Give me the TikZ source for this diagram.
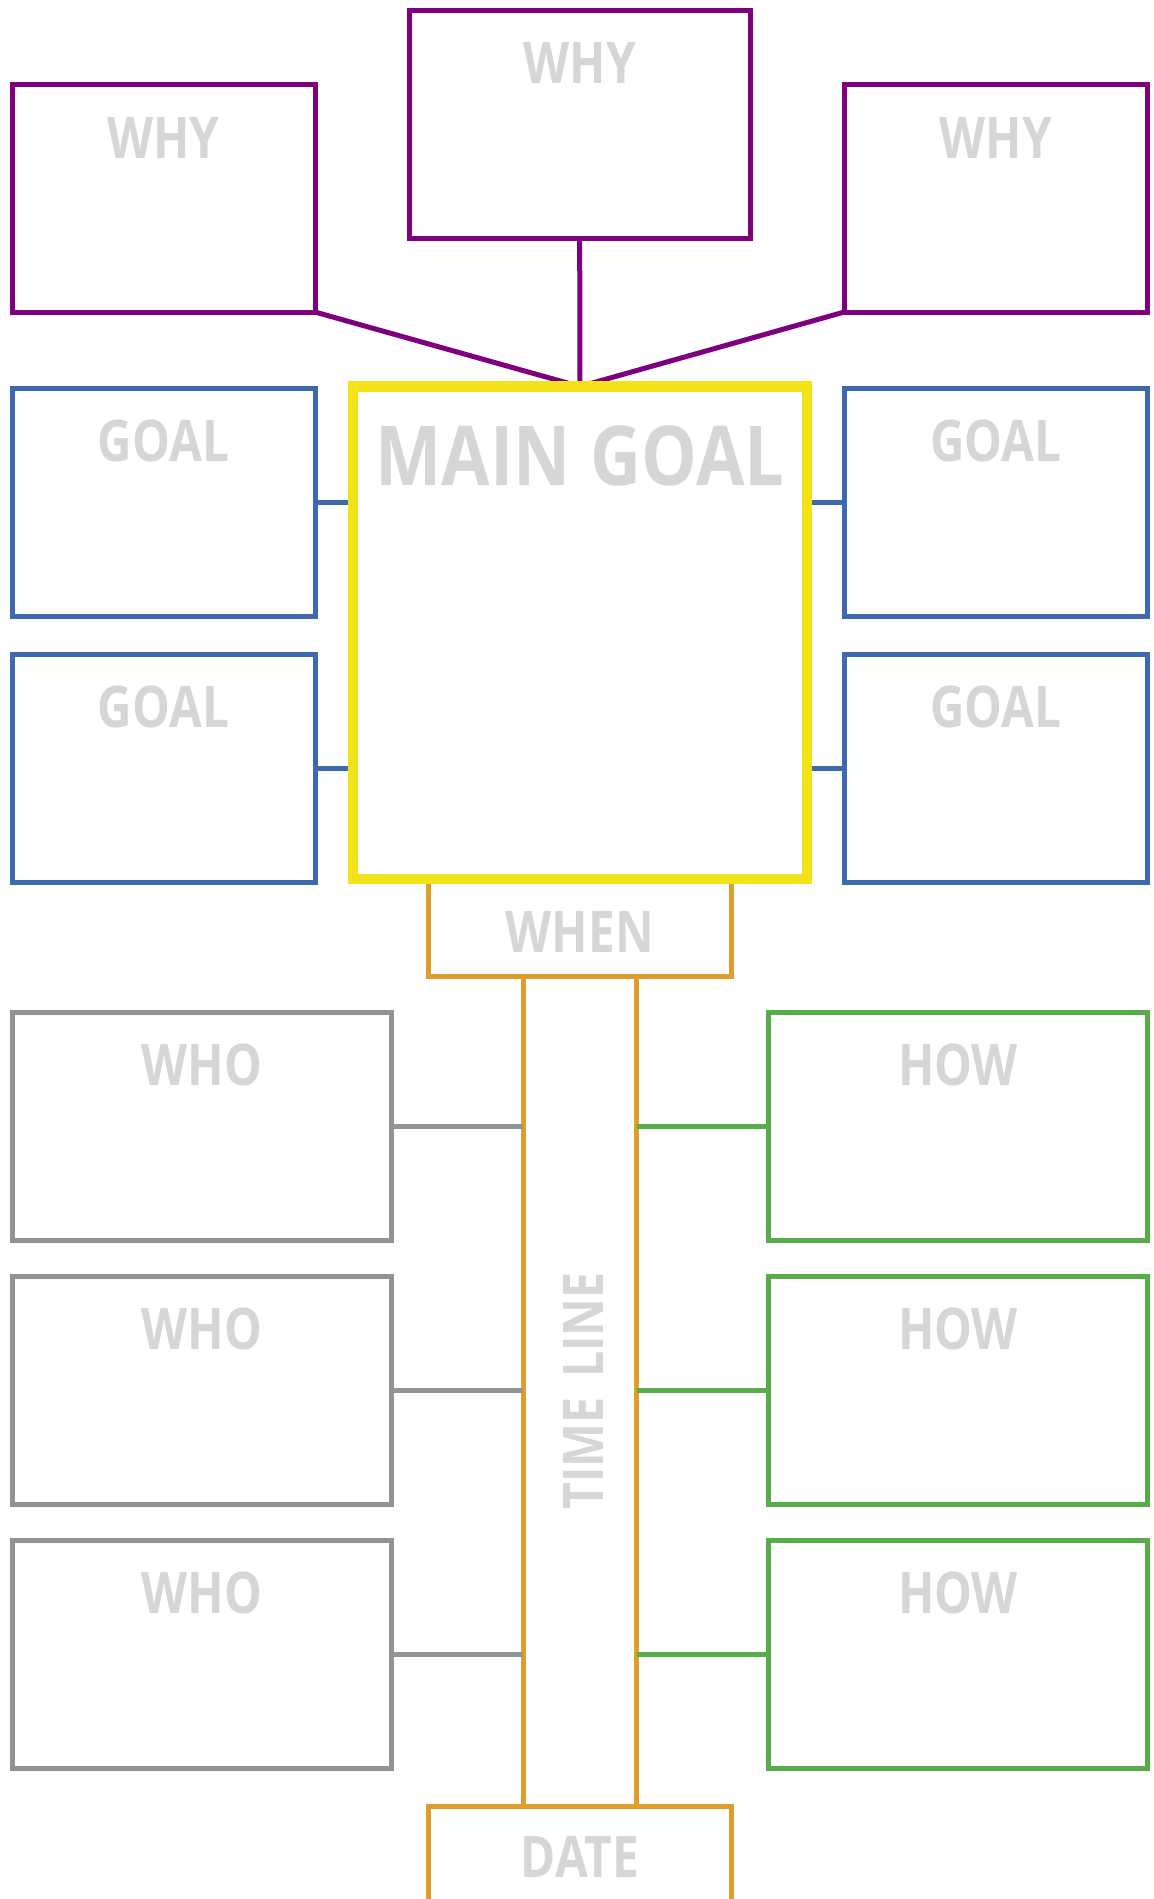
\documentclass[tikz,border=0pt]{standalone}
\usepackage{fontspec}
\newfontfamily\lblfont[FakeStretch=0.83]{Open Sans}
\newfontfamily\mainfont[FakeStretch=0.85]{Open Sans}
\usetikzlibrary{calc}
\definecolor{cpurple}{HTML}{7F007F}
\definecolor{cblue}{HTML}{3D69AE}
\definecolor{cyellow}{HTML}{F2E319}
\definecolor{corange}{HTML}{DF9D2B}
\definecolor{cgray}{HTML}{939393}
\definecolor{cgreen}{HTML}{57AD47}
\definecolor{ctext}{HTML}{D6D6D6}
\tikzset{
  box/.style={draw, rectangle, inner sep=0pt, outer sep=0pt, line width=5pt, fill=white},
  whybox/.style={box, draw=cpurple, minimum width=303, minimum height=228},
  goalbox/.style={box, draw=cblue, minimum width=303, minimum height=228},
  whobox/.style={box, draw=cgray, minimum width=378.3, minimum height=228},
  howbox/.style={box, draw=cgreen, minimum width=378.6, minimum height=228},
  lbl/.style={inner sep=0pt, outer sep=0pt, text=ctext, font=\lblfont\bfseries\fontsize{57.4}{60}\selectfont, anchor=base},
  conn/.style={line width=5pt},
}
\begin{document}
\begin{tikzpicture}[x=1pt,y=-1pt]
\useasboundingbox (0,0) rectangle (1154,1899);
\clip (0,0) rectangle (1154,1899);
% boxes
\node[whybox] (why1) at (163.5,198) {};
\node[whybox, minimum width=340.7] (why2) at (579.7,124) {};
\node[whybox] (why3) at (995.8,198) {};
\node[goalbox] (goal1) at (163.5,502) {};
\node[goalbox] (goal2) at (163.5,768) {};
\node[goalbox] (goal3) at (995.8,502) {};
\node[goalbox] (goal4) at (995.8,768) {};
\node[box, draw=corange, minimum width=302.4, minimum height=97] (when) at (579.8,927.5) {};
\node[box, draw=corange, minimum width=113.7, minimum height=830] (tl) at (579.85,1391) {};
\node[box, draw=corange, minimum width=302.4, minimum height=130] (date) at (579.8,1871) {};
\node[whobox] (who1) at (201.85,1126) {};
\node[whobox] (who2) at (201.85,1390.5) {};
\node[whobox] (who3) at (201.85,1654) {};
\node[howbox] (how1) at (958,1126) {};
\node[howbox] (how2) at (958,1390.5) {};
\node[howbox] (how3) at (958,1654) {};
% main goal
\node[box, draw=cyellow, line width=10.5pt, minimum width=454.3, minimum height=492.5] (main) at (579.9,632.75) {};
% connectors
\draw[conn, cpurple] (why1.south east) -- (main.north);
\draw[conn, cpurple] (why2.south) -- (main.north);
\draw[conn, cpurple] (why3.south west) -- (main.north);
\draw[conn, cblue] (goal1.east) -- (goal1.east -| main.west);
\draw[conn, cblue] (goal2.east) -- (goal2.east -| main.west);
\draw[conn, cblue] (goal3.west) -- (goal3.west -| main.east);
\draw[conn, cblue] (goal4.west) -- (goal4.west -| main.east);
\draw[conn, cgray] (who1.east) -- (who1.east -| tl.west);
\draw[conn, cgray] (who2.east) -- (who2.east -| tl.west);
\draw[conn, cgray] (who3.east) -- (who3.east -| tl.west);
\draw[conn, cgreen] (how1.west) -- (how1.west -| tl.east);
\draw[conn, cgreen] (how2.west) -- (how2.west -| tl.east);
\draw[conn, cgreen] (how3.west) -- (how3.west -| tl.east);
% redraw main goal border over connector ends
\draw[cyellow, line width=10.5pt] (main.north west) rectangle (main.south east);
% labels
\node[lbl] (twhy1) at ([yshift=-74pt]why1.north) {WHY};
\node[lbl] (twhy2) at ([yshift=-73pt]why2.north) {WHY};
\node[lbl] (twhy3) at ([yshift=-74pt]why3.north) {WHY};
\node[lbl] (tgoal1) at ([yshift=-73pt]goal1.north) {GOAL};
\node[lbl] (tgoal2) at ([yshift=-73pt]goal2.north) {GOAL};
\node[lbl] (tgoal3) at ([yshift=-73pt]goal3.north) {GOAL};
\node[lbl] (tgoal4) at ([yshift=-73pt]goal4.north) {GOAL};
\node[lbl, font=\mainfont\bfseries\fontsize{82.6}{86}\selectfont] (tmain) at ([yshift=-98.5pt]main.north) {MAIN\ \hspace{2pt}GOAL};
\node[lbl] (twhen) at ([yshift=-73pt]when.north) {WHEN};
\node[lbl, rotate=90, font=\lblfont\bfseries\fontsize{56}{60}\selectfont] (ttl) at ([xshift=23.5pt]tl.center) {TIME\ \hspace{8pt}LINE};
\node[lbl] (twho1) at ([yshift=-73pt]who1.north) {WHO};
\node[lbl] (twho2) at ([yshift=-73pt]who2.north) {WHO};
\node[lbl] (twho3) at ([yshift=-73pt]who3.north) {WHO};
\node[lbl] (thow1) at ([yshift=-73pt]how1.north) {HOW};
\node[lbl] (thow2) at ([yshift=-73pt]how2.north) {HOW};
\node[lbl] (thow3) at ([yshift=-73pt]how3.north) {HOW};
\node[lbl] (tdate) at ([yshift=-71.7pt]date.north) {DATE};
\end{tikzpicture}
\end{document}
